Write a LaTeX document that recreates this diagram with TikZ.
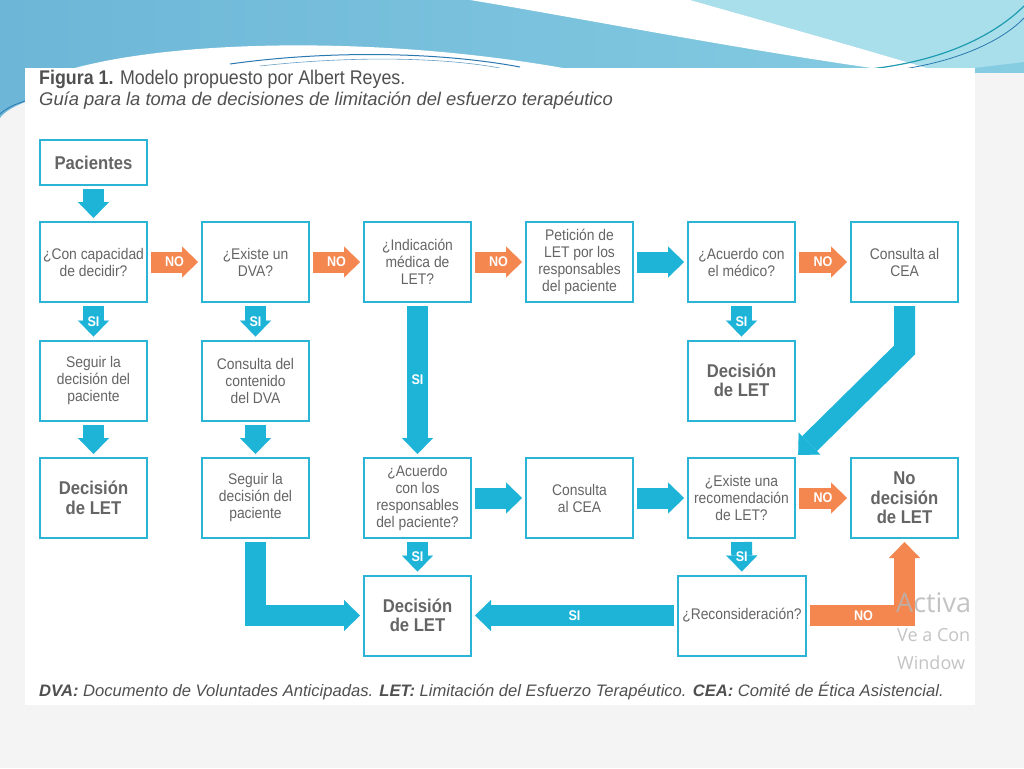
\documentclass[tikz,border=0pt]{standalone}
\usepackage{fontspec}
\setmainfont{Liberation Sans}
\newfontfamily\cond[FakeStretch=0.9]{Liberation Sans}
\newfontfamily\wmfont{Open Sans}
\usetikzlibrary{arrows.meta,calc}
\definecolor{boxc}{HTML}{2BB4D6}
\definecolor{arrc}{HTML}{1DB4D8}
\definecolor{orc}{HTML}{F4874F}
\definecolor{txtc}{HTML}{656565}
\definecolor{ttlc}{HTML}{505050}
\definecolor{pagebg}{HTML}{F4F4F4}
\definecolor{decoA}{HTML}{6DB6D7}
\definecolor{decoB}{HTML}{86CDE2}
\definecolor{decoL}{HTML}{A9DFEA}
\definecolor{decoline}{HTML}{2A78B0}
\definecolor{decoteal}{HTML}{1E9BB0}
\definecolor{wmc}{HTML}{B5B5B5}
\begin{document}
\begin{tikzpicture}[x=1pt,y=-1pt,
  box/.style={draw=boxc,line width=2pt,fill=white,minimum width=107pt,minimum height=80pt,
    inner sep=1pt,align=center,text=txtc,font=\cond\fontsize{15.4}{17}\selectfont},
  bigtxt/.style={font=\cond\bfseries\fontsize{18.5}{19.5}\selectfont},
  barr/.style={draw=arrc,line width=21pt,line join=miter,
    -{Triangle[length=16pt,width=31pt,line width=0.1pt]},shorten <=3pt,shorten >=3pt},
  oarr/.style={barr,draw=orc},
  lbl/.style={text=white,font=\cond\bfseries\fontsize{14}{14}\selectfont,inner sep=0pt},
]
\useasboundingbox (0,0) rectangle (1024,768);
% background and decoration
\fill[pagebg] (0,0) rectangle (1024,768);
\shade[left color=decoA,right color=decoB] (0,0) rectangle (1024,72);
\fill[decoL] (690,0) -- (1024,0) -- (1024,62) -- (940,72) .. controls (850,45) and (760,20) .. (690,0) -- cycle;
\fill[white] (470,0) -- (690,0) .. controls (760,20) and (850,45) .. (940,72) -- (900,72) .. controls (740,50) and (580,18) .. (470,0) -- cycle;
\fill[white] (40,80) .. controls (130,40) and (380,30) .. (600,75) -- cycle;
\draw[decoline,line width=1pt] (230,64) .. controls (330,50) and (440,52) .. (520,67);
\draw[decoline!70,line width=0.6pt] (260,66) .. controls (350,56) and (440,57) .. (500,68);
\draw[decoteal,line width=1.2pt] (860,70) .. controls (950,62) and (1000,30) .. (1024,6);
\draw[decoline,line width=0.8pt] (880,72) .. controls (960,64) and (1005,38) .. (1024,18);
\fill[decoA] (0,72) -- (25,72) -- (25,102) .. controls (15,106) and (5,111) .. (0,118) -- cycle;
\draw[decoline,line width=0.8pt] (0,114) .. controls (8,107) and (16,104) .. (25,101);
% panel
\fill[white] (25,68) rectangle (975,705);
% titles
\node[anchor=west,inner sep=0pt,text=ttlc,font=\cond\fontsize{19.8}{20}\selectfont] (ttl) at (39,79)
  {\bfseries Figura 1.\mdseries{} Modelo propuesto por Albert Reyes.};
\node[anchor=west,inner sep=0pt,text=ttlc,font=\itshape\fontsize{18.4}{20}\selectfont] (sub) at (39,101)
  {Guía para la toma de decisiones de limitación del esfuerzo terapéutico};
% boxes
\node[box,minimum height=45pt,bigtxt] (pac) at (93.5,162.5) {Pacientes};
\node[box] (q1) at (93.5,262) {¿Con capacidad\\de decidir?};
\node[box] (q2) at (255.5,262) {¿Existe un\\DVA?};
\node[box] (q3) at (417.5,262) {¿Indicación\\médica de\\LET?};
\node[box] (pet) at (579.5,262) {Petición de\\LET por los\\responsables\\del paciente};
\node[box] (acm) at (741.5,262) {¿Acuerdo con\\el médico?};
\node[box] (cea1) at (904.5,262) {Consulta al\\CEA};
\node[box] (seg1) at (93.5,380.5) {Seguir la\\decisión del\\paciente};
\node[box] (cdva) at (255.5,380.5) {Consulta del\\contenido\\del DVA};
\node[box,bigtxt] (dl2) at (741.5,380.5) {Decisión\\de LET};
\node[box,bigtxt] (dl1) at (93.5,498) {Decisión\\de LET};
\node[box] (seg2) at (255.5,498) {Seguir la\\decisión del\\paciente};
\node[box] (acr) at (417.5,498) {¿Acuerdo\\con los\\responsables\\del paciente?};
\node[box] (cea2) at (579.5,498) {Consulta\\al CEA};
\node[box] (exr) at (741.5,498) {¿Existe una\\recomendación\\de LET?};
\node[box,bigtxt] (nd) at (904.5,498) {No\\decisión\\de LET};
\node[box,bigtxt] (dl3) at (417.5,615.5) {Decisión\\de LET};
\node[box,minimum width=128pt] (rec) at (742,615.5) {¿Reconsideración?};
% arrows
\draw[barr] (pac) -- (q1);
\draw[oarr] (q1) -- node[lbl]{NO} (q2);
\draw[oarr] (q2) -- node[lbl]{NO} (q3);
\draw[oarr] (q3) -- node[lbl]{NO} (pet);
\draw[barr] (pet) -- (acm);
\draw[oarr] (acm) -- node[lbl]{NO} (cea1);
\draw[barr] (q1) -- node[lbl]{SI} (seg1);
\draw[barr] (q2) -- node[lbl]{SI} (cdva);
\draw[barr] (q3) -- node[lbl]{SI} (acr);
\draw[barr] (acm) -- node[lbl]{SI} (dl2);
\draw[barr] (cea1.south) -- ++(0,47) -- (exr.north east);
\draw[barr] (seg1) -- (dl1);
\draw[barr] (cdva) -- (seg2);
\draw[barr] (seg2.south) |- (dl3.west);
\draw[barr] (acr) -- (cea2);
\draw[barr] (cea2) -- (exr);
\draw[oarr] (exr) -- node[lbl]{NO} (nd);
\draw[barr] (acr) -- node[lbl]{SI} (dl3);
\draw[barr] (exr) -- node[lbl]{SI} (rec);
\draw[barr] (rec) -- node[lbl]{SI} (dl3);
\draw[oarr] (rec.east) -| node[lbl,pos=.29]{NO} (nd.south);
% caption
\node[anchor=west,inner sep=0pt,text=ttlc,font=\itshape\fontsize{16.6}{18}\selectfont] (cap) at (39,691)
  {{\bfseries DVA:} Documento de Voluntades Anticipadas. {\bfseries LET:} Limitación del Esfuerzo Terapéutico. {\bfseries CEA:} Comité de Ética Asistencial.};
% watermark
\node[anchor=west,inner sep=0pt,text=wmc,opacity=0.8,font=\wmfont\fontsize{27}{30}\selectfont] (wm1) at (896,603) {Activa};
\node[anchor=west,inner sep=0pt,text=wmc,opacity=0.8,font=\wmfont\fontsize{18}{20}\selectfont] (wm2) at (897,635) {Ve a Con};
\node[anchor=west,inner sep=0pt,text=wmc,opacity=0.8,font=\wmfont\fontsize{18}{20}\selectfont] (wm3) at (897,663) {Window};
\end{tikzpicture}
\end{document}
